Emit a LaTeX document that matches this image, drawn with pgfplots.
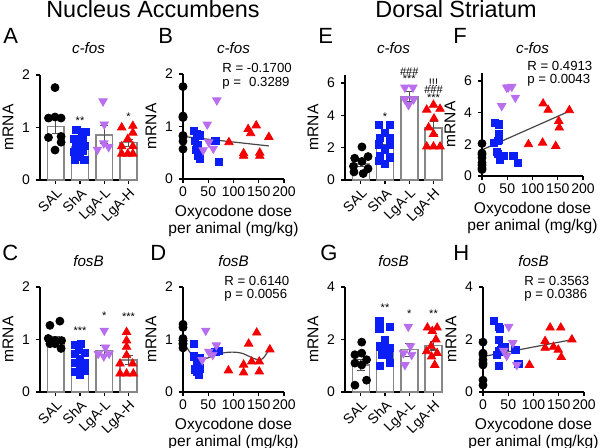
\documentclass[border=0pt]{standalone}
\usepackage{fontspec}
\setmainfont{Liberation Sans}
\usepackage{pgfplots}
\pgfplotsset{compat=1.18}

\definecolor{shablue}{RGB}{10,30,245}
\definecolor{lgapurple}{RGB}{185,110,240}
\definecolor{lgared}{RGB}{245,0,0}
\definecolor{bargray}{RGB}{135,135,135}
\definecolor{errgray}{RGB}{80,80,80}
\definecolor{fitgray}{RGB}{70,70,70}

\pgfplotsset{
  prism/.style={
    scale only axis, clip=false,
    axis x line*=bottom, axis y line*=left,
    axis line style={line width=0.75pt, -},
    tick align=outside, major tick length=2pt,
    every tick/.style={black, line width=0.6pt},
    tick label style={font=\fontsize{7}{8}\selectfont},
    yticklabel style={xshift=0.5pt},
    label style={font=\fontsize{7.8}{9}\selectfont},
    ylabel style={yshift=-2.5pt},
    /pgf/number format/assume math mode=true,
    ymin=0, ylabel={mRNA},
  },
  barpanel/.style={prism, width=48.5pt, height=52.5pt, xmin=-0.65, xmax=3.35,
    xtick={0,1,2,3}, xticklabels={SAL,ShA,LgA-L,LgA-H},
    x tick label style={rotate=45, anchor=north east, inner sep=1pt, font=\fontsize{7}{8}\selectfont}},
  scatpanel/.style={prism, width=50.5pt, height=52.5pt, xmin=0, xmax=200,
    xtick={0,50,100,150,200},
    xticklabel style={yshift=1.5pt},
    xlabel={Oxycodone dose\\per animal (mg/kg)},
    xlabel style={align=center, yshift=3pt, font=\fontsize{7.8}{8.6}\selectfont}},
  mean/.style={ybar, bar width=0.7, bar shift=0pt, fill=white, draw=bargray, line width=0.75pt,
    error bars/.cd, y dir=both, y explicit,
    error bar style={errgray, line width=0.55pt},
    error mark options={rotate=90, errgray, mark size=2pt, line width=0.55pt}},
  sal/.style={only marks, mark=*, mark size=2pt, black},
  sha/.style={only marks, mark=square*, mark size=1.8pt, shablue},
  lgal/.style={only marks, mark=triangle*, mark size=2.4pt, lgapurple, mark options={rotate=180}},
  lgah/.style={only marks, mark=triangle*, mark size=2.4pt, lgared},
  fit/.style={fitgray, line width=0.6pt, no marks},
}
\tikzset{stars/.style={font=\fontsize{5.5}{5.5}\selectfont, inner sep=0pt}}

\begin{document}
\begin{tikzpicture}
\path[use as bounding box] (0pt,0pt) rectangle (300pt,223.5pt);

% ---------- A: NAc c-fos ----------
\begin{axis}[barpanel, at={(20pt,133.5pt)}, anchor=south west, ymax=2, ytick={0,1,2}]
\addplot[mean] coordinates {(0,1.02) +- (0,0.13) (1,0.63) +- (0,0.05) (2,0.86) +- (0,0.17) (3,0.71) +- (0,0.07)};
\addplot[sal] coordinates {(-0.03,1.76) (-0.3,1.18) (-0.03,1.2) (0.22,1.18) (-0.3,0.81) (0.22,0.83) (0.22,0.72) (-0.03,0.57)};
\addplot[sha] coordinates {(0.85,0.95) (1.22,0.92) (0.75,0.78) (1.1,0.8) (0.82,0.66) (1.2,0.65) (0.75,0.53) (1.1,0.55) (0.78,0.38) (1.18,0.38) (1.0,0.45) (1.0,0.7)};
\addplot[lgal] coordinates {(1.95,1.5) (2.0,1.06) (1.72,0.58) (2.18,0.63) (1.98,0.7)};
\addplot[lgah] coordinates {(3.18,1.03) (2.72,1.0) (3.18,0.9) (2.97,0.78) (2.72,0.64) (3.18,0.64) (2.72,0.5) (2.97,0.5) (3.18,0.5)};
\node[stars] at (axis cs:1,1.12) {**};
\node[stars] at (axis cs:3,1.2) {*};
\end{axis}

% ---------- B: NAc c-fos vs dose ----------
\begin{axis}[scatpanel, at={(91.5pt,134pt)}, anchor=south west, ymax=2, ytick={0,1,2}]
\addplot[fit] coordinates {(0,0.81) (170,0.63)};
\addplot[sal] coordinates {(0,1.76) (0,1.18) (0,1.2) (0,1.17) (0,0.81) (0,0.83) (0,0.72) (0,0.57)};
\addplot[sha] coordinates {(21,0.91) (28,0.85) (33,0.83) (24,0.73) (28,0.57) (33,0.48) (34,0.38) (30,0.45) (26,0.55) (64,0.73) (71,0.32) (30,0.65)};
\addplot[lgal] coordinates {(67,1.5) (48,1.04) (51,0.7) (60,0.58) (40,0.55)};
\addplot[lgah] coordinates {(91,0.7) (120,0.44) (120,0.49) (129,0.95) (134,0.87) (145,1.02) (152,0.44) (152,0.5) (170,0.8)};
\end{axis}

% ---------- E: DS c-fos ----------
\begin{axis}[barpanel, at={(172.5pt,133.5pt)}, anchor=south west, ymax=6.5, ytick={0,2,4,6}]
\addplot[mean] coordinates {(0,1.0) +- (0,0.18) (1,1.97) +- (0,0.25) (2,5.18) +- (0,0.3) (3,3.22) +- (0,0.38)};
\addplot[sal] coordinates {(0.05,2.05) (0.3,1.45) (-0.25,1.35) (0.05,1.15) (-0.3,0.85) (0.3,0.7) (-0.28,0.5) (0.1,0.4)};
\addplot[sha] coordinates {(0.75,3.4) (1.2,3.4) (1.0,2.9) (0.78,2.6) (1.2,2.6) (0.75,2.2) (1.2,2.2) (1.0,1.9) (0.78,1.5) (1.2,1.4) (0.75,1.2) (1.0,1.0)};
\addplot[lgal] coordinates {(1.82,5.73) (2.15,5.73) (2.18,5.0) (1.97,4.65) (1.82,5.0)};
\addplot[lgah] coordinates {(3.0,4.65) (2.72,4.35) (3.27,4.4) (3.02,3.8) (2.8,3.25) (3.0,2.85) (2.72,2.07) (3.0,2.07) (3.27,2.07)};
\node[stars] at (axis cs:1,3.9) {*};
\node[stars] at (axis cs:2,6.25) {***};
\node[stars] at (axis cs:2,6.7) {\#\#\#};
\node[stars] at (axis cs:3,5.1) {***};
\node[stars] at (axis cs:3,5.6) {\#\#\#};
\node[stars] at (axis cs:3,6.05) {!!!};
\end{axis}

% ---------- F: DS c-fos vs dose ----------
\begin{axis}[scatpanel, at={(241pt,135.5pt)}, anchor=south west, height=51.5pt, ymax=6.5, ytick={0,2,4,6}]
\addplot[fit] coordinates {(0,1.65) (170,4.05)};
\addplot[sal] coordinates {(0,2.05) (0,1.45) (0,1.35) (0,1.15) (0,0.85) (0,0.7) (0,0.5) (0,0.4)};
\addplot[sha] coordinates {(26,3.37) (33,3.26) (33,2.67) (23,2.1) (31,2.2) (33,2.3) (31,1.37) (43,1.26) (35,1.05) (62,1.26) (71,0.84) (30,1.5)};
\addplot[lgal] coordinates {(39,4.42) (49,5.58) (59,5.64) (66,4.95) (52,5.6)};
\addplot[lgah] coordinates {(92,2.0) (121,4.57) (131,4.17) (120,2.1) (146,1.89) (152,3.47) (153,3.05) (173,4.15)};
\end{axis}

% ---------- C: NAc fosB ----------
\begin{axis}[barpanel, at={(20pt,27.5pt)}, anchor=south west, ymax=2, ytick={0,1,2}]
\addplot[mean] coordinates {(0,1.0) +- (0,0.05) (1,0.58) +- (0,0.05) (2,0.79) +- (0,0.1) (3,0.61) +- (0,0.09)};
\addplot[sal] coordinates {(-0.24,1.27) (0.17,1.35) (-0.31,1.02) (-0.03,0.98) (0.24,0.98) (-0.24,0.92) (0.22,0.83) (-0.03,0.92)};
\addplot[sha] coordinates {(0.8,0.9) (1.05,0.92) (0.95,0.8) (0.78,0.72) (1.2,0.75) (1.0,0.62) (0.78,0.55) (1.2,0.55) (1.0,0.45) (0.8,0.38) (1.2,0.4) (1.0,0.32)};
\addplot[lgal] coordinates {(2.0,1.17) (2.05,0.85) (1.75,0.73) (2.2,0.73) (1.98,0.68)};
\addplot[lgah] coordinates {(2.92,1.14) (2.92,0.98) (2.92,0.86) (2.92,0.7) (2.65,0.54) (3.17,0.54) (2.65,0.35) (2.92,0.35) (3.2,0.35)};
\node[stars] at (axis cs:1,1.17) {***};
\node[stars] at (axis cs:2,1.46) {*};
\node[stars] at (axis cs:3,1.43) {***};
\end{axis}

% ---------- D: NAc fosB vs dose ----------
\begin{axis}[scatpanel, at={(91.5pt,27.5pt)}, anchor=south west, ymax=2, ytick={0,1,2}]
\addplot[fit, smooth] coordinates {(1,0.94) (15,0.74) (25,0.65) (38,0.62) (58,0.68) (77,0.74) (97,0.76) (116,0.74) (133,0.67) (146,0.62) (157,0.63) (166,0.74) (172,0.85)};
\addplot[sal] coordinates {(0,1.29) (0,1.23) (0,1.02) (0,0.98) (0,0.98) (0,0.92) (0,0.84) (0,0.92)};
\addplot[sha] coordinates {(22,0.92) (21,0.68) (28,0.65) (33,0.65) (24,0.43) (28,0.39) (31,0.35) (33,0.45) (64,0.77) (70,0.79) (28,0.55) (31,0.32)};
\addplot[lgal] coordinates {(45,1.17) (51,0.77) (66,0.89) (59,0.71) (38,0.61)};
\addplot[lgah] coordinates {(90,0.41) (120,0.52) (120,0.37) (130,0.92) (136,0.58) (146,1.13) (151,0.58) (151,0.39) (172,0.81)};
\end{axis}

% ---------- G: DS fosB ----------
\begin{axis}[barpanel, at={(172.5pt,27.5pt)}, anchor=south west, ymax=4, ytick={0,2,4}]
\addplot[mean] coordinates {(0,1.03) +- (0,0.2) (1,1.74) +- (0,0.15) (2,1.61) +- (0,0.25) (3,1.77) +- (0,0.17)};
\addplot[sal] coordinates {(0.04,1.9) (-0.24,1.42) (0.04,1.48) (0.24,1.23) (-0.24,1.1) (0.04,1.03) (0.24,0.45) (-0.24,0.26)};
\addplot[sha] coordinates {(0.77,2.71) (1.21,2.49) (0.77,2.41) (1.0,2.0) (0.79,1.74) (1.0,1.74) (1.21,1.68) (0.86,1.42) (0.79,0.99) (1.21,1.1) (1.12,1.6) (1.15,1.4)};
\addplot[lgal] coordinates {(1.96,2.49) (1.76,1.48) (2.1,1.42) (1.82,1.03) (2.05,1.75)};
\addplot[lgah] coordinates {(2.75,2.45) (3.15,2.45) (2.95,2.32) (3.1,2.0) (2.9,1.74) (2.72,1.55) (3.15,1.48) (2.92,1.35) (3.05,1.03)};
\node[stars] at (axis cs:1,3.2) {**};
\node[stars] at (axis cs:2,2.97) {*};
\node[stars] at (axis cs:3,2.97) {**};
\end{axis}

% ---------- H: DS fosB vs dose ----------
\begin{axis}[scatpanel, at={(241.5pt,27.5pt)}, anchor=south west, ymax=4, ytick={0,2,4}]
\addplot[fit] coordinates {(0,1.35) (170,1.97)};
\addplot[sal] coordinates {(0,1.9) (0,1.42) (0,1.48) (0,1.23) (0,1.1) (0,1.03) (0,0.45) (0,0.26)};
\addplot[sha] coordinates {(21,2.71) (31,2.49) (33,2.41) (31,2.0) (37.5,1.72) (44,1.72) (31,1.55) (28,1.42) (64,1.61) (70,1.07) (31,0.99) (35,1.6)};
\addplot[lgal] coordinates {(51,2.49) (59,1.87) (41,1.57) (47,1.38) (67,1.03)};
\addplot[lgah] coordinates {(92,1.03) (123,1.94) (123,1.68) (133,2.45) (139.5,1.72) (154,2.45) (149,1.61) (155,1.33) (176,2.0)};
\end{axis}

% ---------- headings, panel letters, gene names, statistics (pixel grid) ----------
\begin{scope}[x=0.5pt, y=-0.5pt, shift={(0pt,223.5pt)}]
\tikzset{hd/.style={anchor=base, font=\fontsize{11.7}{12}\selectfont},
  let/.style={anchor=base west, inner sep=0pt, font=\fontsize{11}{12}\selectfont},
  gene/.style={anchor=base, inner sep=0pt, font=\itshape\fontsize{7.6}{8}\selectfont},
  st/.style={anchor=base west, inner sep=0pt, font=\fontsize{6.6}{7}\selectfont}}
\node[hd] at (153,17) {Nucleus Accumbens};
\node[hd] at (456,17) {Dorsal Striatum};
\node[let] at (3,43) {A};
\node[let] at (158,43) {B};
\node[let] at (318,43) {E};
\node[let] at (453,43) {F};
\node[let] at (2,260) {C};
\node[let] at (150,260) {D};
\node[let] at (320,260) {G};
\node[let] at (453,260) {H};
\node[gene] at (88.5,53) {c-fos};
\node[gene] at (233.5,53) {c-fos};
\node[gene] at (393.5,53) {c-fos};
\node[gene] at (532.5,53) {c-fos};
\node[gene] at (88.5,266) {fosB};
\node[gene] at (233.5,266) {fosB};
\node[gene] at (393.5,266) {fosB};
\node[gene] at (533.5,266) {fosB};
\node[st] at (222,72) {R = -0.1700};
\node[st] at (222,86) {p = \phantom{-}0.3289};
\node[st] at (527,70) {R = 0.4913};
\node[st] at (527,83) {p = 0.0043};
\node[st] at (224,285) {R = 0.6140};
\node[st] at (224,298) {p = 0.0056};
\node[st] at (524,285) {R = 0.3563};
\node[st] at (524,298) {p = 0.0386};
\end{scope}
\end{tikzpicture}
\end{document}
